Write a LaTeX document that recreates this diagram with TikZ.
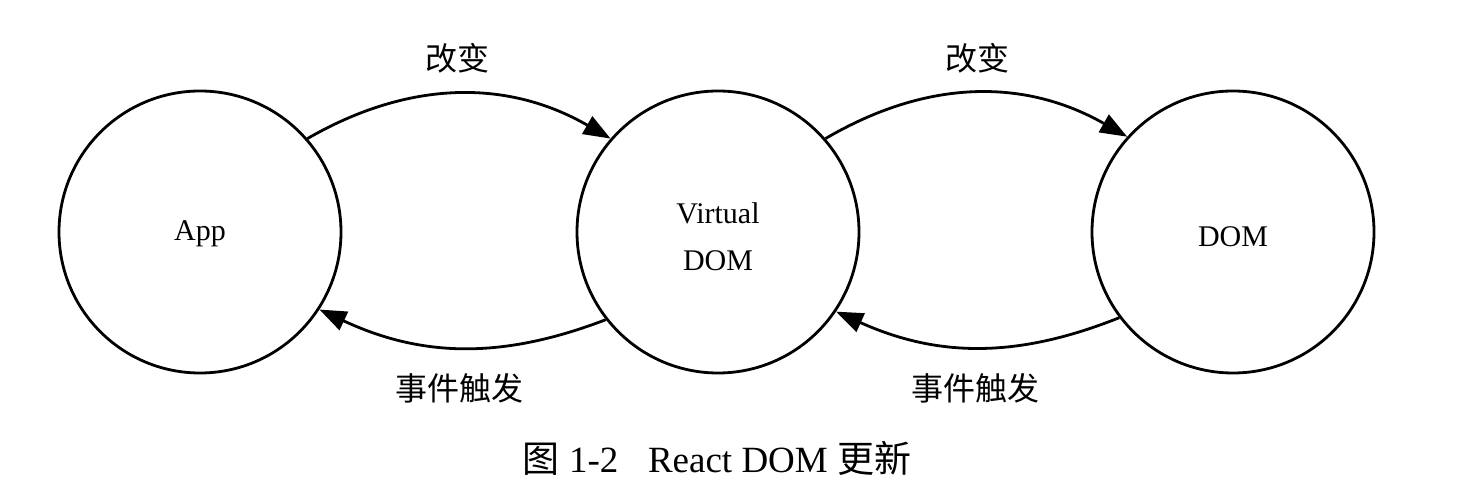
\documentclass[tikz,border=0pt]{standalone}
\usepackage{fontspec}
\setmainfont{Liberation Serif}
\newfontfamily\cjk{Noto Sans CJK SC}
\usetikzlibrary{arrows.meta}

\begin{document}
\begin{tikzpicture}[x=0.5pt,y=0.5pt,
  state/.style={draw,circle,line width=1.4pt,minimum size=141pt,inner sep=0pt,
    align=center,font=\fontsize{15}{23.5}\selectfont},
  flow/.style={line width=1.4pt,-{Triangle[length=13.5pt,width=10pt]}},
  lbl/.style={font=\fontsize{16}{19}\selectfont\cjk}]
\useasboundingbox (0,0) rectangle (1472,498);

\node[state] (app) at (200,266) {\rule{0pt}{12pt}App};
\node[state] (vdom) at (718,266) {\rule{0pt}{15.3pt}Virtual\\DOM};
\node[state] (dom) at (1233,266) {\rule{0pt}{15pt}DOM};

\draw[flow] (app.41) to[bend left=30] (vdom.139);
\draw[flow] (vdom.-142) to[bend left=23] (app.-33);
\draw[flow] (vdom.41) to[bend left=30] (dom.138);
\draw[flow] (dom.-143) to[bend left=23] (vdom.-34);

\node[lbl] (change1) at (457,440) {改变};
\node[lbl] (change2) at (977,440) {改变};
\node[lbl] (event1) at (459,110) {事件触发};
\node[lbl] (event2) at (975,110) {事件触发};

\node[font=\fontsize{18.5}{22}\selectfont] (caption) at (717,40)
  {{\cjk 图} 1-2\hspace{0.8em}React DOM {\cjk 更新}};
\end{tikzpicture}
\end{document}
